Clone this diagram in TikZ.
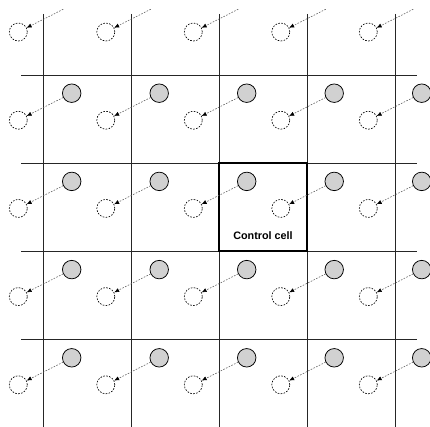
\documentclass[tikz,border=0pt]{standalone}
\usepackage{fontspec}
\setsansfont{Liberation Sans}
\usetikzlibrary{arrows.meta}

\begin{document}
\begin{tikzpicture}[x=1pt,y=-1pt]
    \pgfmathsetmacro{\cell}{88}
    \pgfmathsetmacro{\stepx}{87.5}
    \pgfmathsetmacro{\stepy}{88.2}
    \tikzset{every node/.style={font=\sffamily\bfseries}}
    \tikzset{cur/.style={circle,draw=black,fill=black!18,line width=0.75pt,minimum size=18.5pt,inner sep=0pt}}
    \tikzset{nxt/.style={circle,draw=black,dash pattern=on 1.6pt off 1.4pt,line width=0.65pt,minimum size=18pt,inner sep=0pt}}
    \tikzset{hid/.style={circle,minimum size=18.5pt,inner sep=0pt}}
    \tikzset{move/.style={draw=black!65,dash pattern=on 1.6pt off 1.4pt,line width=0.55pt,-{Latex[length=5pt,width=4.2pt,color=black]}}}
    \tikzset{gridline/.style={line width=0.85pt,black!85}}
    \useasboundingbox (0,0) rectangle (430,427);
    % cell boundaries
    \foreach \i in {0,...,4}
        \draw[gridline] (43+\i*\cell,14) -- (43+\i*\cell,427);
    \foreach \j in {0,...,3}
        \draw[gridline] (21,75+\j*\cell) -- (417,75+\j*\cell);
    % control cell
    \draw[line width=2.8pt] (219,163) rectangle (307,251);
    \node[font=\sffamily\bfseries\fontsize{10.8}{12}\selectfont] (ctl) at (263,236) {Control cell};
    % particles and their moves
    \foreach \i in {0,...,4}
      \foreach \j in {0,...,4} {
        \ifnum\j=0
            \node[hid] (cur@\i-\j) at (71.7+\i*\stepx,5) {};
        \else
            \node[cur] (cur@\i-\j) at (71.7+\i*\stepx,5+\j*\stepy) {};
        \fi
        \node[nxt] (nxt@\i-\j) at (18.3+\i*\stepx,32+\j*\stepy) {};
        \draw[move] (cur@\i-\j) -- (nxt@\i-\j);
      }
\end{tikzpicture}
\end{document}
